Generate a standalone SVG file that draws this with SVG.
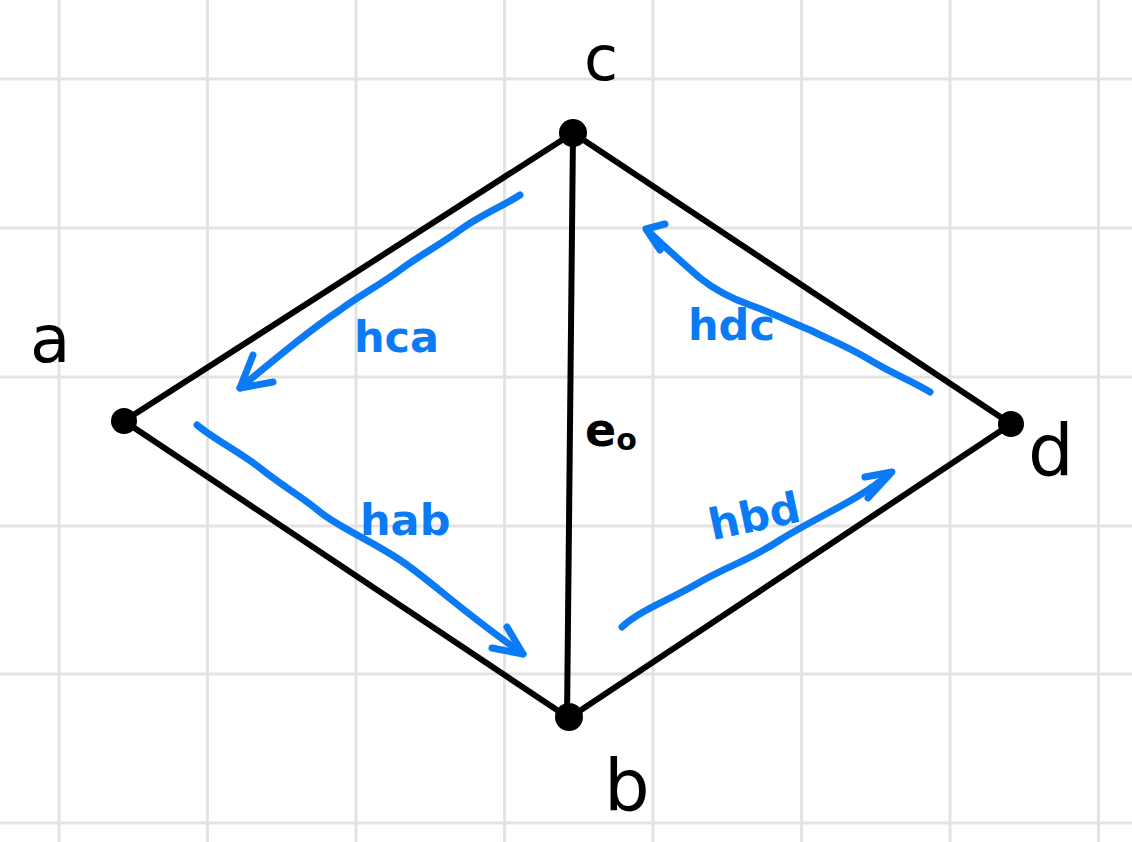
<svg xmlns="http://www.w3.org/2000/svg" width="1132" height="842" viewBox="0 0 1132 842">
<style>
.grid line{stroke:#e3e3e3;stroke-width:3}
.edge{stroke:#000;stroke-width:6;stroke-linecap:round;fill:none}
.dot{fill:#000}
.half{stroke:#0a7af5;stroke-width:7;fill:none;stroke-linecap:round;stroke-linejoin:round}
.lbl{font-family:"DejaVu Sans",sans-serif;fill:#000}
.hl{font-family:"DejaVu Sans",sans-serif;font-weight:bold;fill:#0a7af5;font-size:43px}
</style>
<rect width="1132" height="842" fill="#fff"/>
<g class="grid">
<line x1="59" y1="0" x2="59" y2="842"/><line x1="207.5" y1="0" x2="207.5" y2="842"/><line x1="356" y1="0" x2="356" y2="842"/><line x1="504.5" y1="0" x2="504.5" y2="842"/><line x1="653" y1="0" x2="653" y2="842"/><line x1="801.5" y1="0" x2="801.5" y2="842"/><line x1="950" y1="0" x2="950" y2="842"/><line x1="1098.5" y1="0" x2="1098.5" y2="842"/>
<line x1="0" y1="79" x2="1132" y2="79"/><line x1="0" y1="228" x2="1132" y2="228"/><line x1="0" y1="377" x2="1132" y2="377"/><line x1="0" y1="526" x2="1132" y2="526"/><line x1="0" y1="674" x2="1132" y2="674"/><line x1="0" y1="823" x2="1132" y2="823"/>
</g>
<g id="connectors">
<line class="edge" x1="573" y1="133" x2="124" y2="421"/>
<line class="edge" x1="124" y1="421" x2="569" y2="718"/>
<line class="edge" x1="569" y1="718" x2="1011" y2="424"/>
<line class="edge" x1="1011" y1="424" x2="573" y2="133"/>
<line class="edge" x1="573" y1="133" x2="567" y2="718"/>
<text class="lbl" x="585" y="446" font-size="46" font-weight="bold">e<tspan font-size="30" dy="4">o</tspan></text>
</g>
<g id="node-c"><circle class="dot" cx="573" cy="133" r="14"/><text class="lbl" x="584" y="80" font-size="62">c</text></g>
<g id="node-a"><circle class="dot" cx="124" cy="421" r="13"/><text class="lbl" x="30" y="362" font-size="66">a</text></g>
<g id="node-d"><circle class="dot" cx="1011" cy="424" r="13"/><text class="lbl" x="1028" y="475" font-size="72">d</text></g>
<g id="node-b"><circle class="dot" cx="569" cy="717" r="14"/><text class="lbl" x="604" y="810" font-size="72">b</text></g>
<g id="hca">
<path class="half" d="M520 195 C505 205 480 215 460 230 C440 245 420 255 400 270 C380 285 360 295 340 310 C310 330 280 355 240 388"/>
<path class="half" d="M253 355 L240 388 L273 382"/>
<text class="hl" x="354" y="352">hca</text>
</g>
<g id="hab">
<path class="half" d="M197 425 C215 440 240 452 260 468 C285 488 300 495 320 512 C340 528 370 540 400 560 C430 580 460 610 523 654"/>
<path class="half" d="M507 627 L523 654 L492 648"/>
<text class="hl" x="360" y="535">hab</text>
</g>
<g id="hbd">
<path class="half" d="M622 627 C640 610 670 600 700 582 C730 565 750 560 780 540 C820 515 860 500 890 473"/>
<path class="half" d="M865 477 L892 472 L868 498"/>
<text class="hl" x="706" y="530" transform="rotate(-12 758 505)">hbd</text>
</g>
<g id="hdc">
<path class="half" d="M930 392 C910 380 895 375 870 360 C845 345 830 340 810 330 C790 322 770 312 750 305 C730 298 715 290 700 278 C685 265 668 250 647 230"/>
<path class="half" d="M665 224 L646 229 L660 250"/>
<text class="hl" x="688" y="340">hdc</text>
</g>
</svg>
